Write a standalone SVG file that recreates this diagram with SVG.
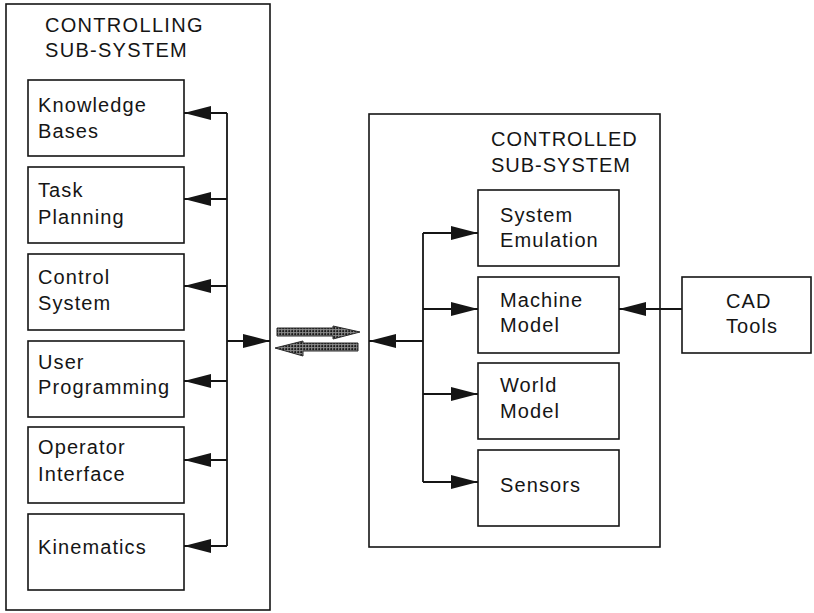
<svg xmlns="http://www.w3.org/2000/svg" width="814" height="613" viewBox="0 0 814 613">
<style>
.box{fill:none;stroke:#151515;stroke-width:1.6}
.frame{fill:none;stroke:#151515;stroke-width:1.6}
.ln{fill:none;stroke:#151515;stroke-width:1.8}
.t{font-family:"Liberation Sans",Arial,sans-serif;font-size:20px;fill:#151515;letter-spacing:1.1px}
.tt{font-family:"Liberation Sans",Arial,sans-serif;font-size:20px;fill:#151515;letter-spacing:1.3px}
.hatch{fill:url(#dots);stroke:#2a2a2a;stroke-width:1}
</style>
<defs>
<marker id="ah" markerUnits="userSpaceOnUse" markerWidth="27" markerHeight="14" refX="27" refY="7" orient="auto">
<path d="M0,0 L27,7 L0,14 Z" fill="#151515"/>
</marker>
<pattern id="dots" patternUnits="userSpaceOnUse" width="3" height="3">
<rect width="3" height="3" fill="#8a8a8a"/>
<circle cx="1.2" cy="1.2" r="1.1" fill="#1a1a1a"/>
</pattern>
</defs>
<rect width="814" height="613" fill="#ffffff"/>

<g id="controlling-subsystem">
<rect class="frame" x="6" y="4" width="264" height="606"/>
<text class="tt" x="45" y="32">CONTROLLING</text>
<text class="tt" x="45" y="57">SUB-SYSTEM</text>
</g>

<g id="knowledge-bases">
<rect class="box" x="28" y="80" width="156" height="76"/>
<text class="t" x="38" y="112">Knowledge</text>
<text class="t" x="38" y="138">Bases</text>
</g>
<g id="task-planning">
<rect class="box" x="28" y="167" width="156" height="76"/>
<text class="t" x="38" y="197">Task</text>
<text class="t" x="38" y="224">Planning</text>
</g>
<g id="control-system">
<rect class="box" x="28" y="254" width="156" height="76"/>
<text class="t" x="38" y="284">Control</text>
<text class="t" x="38" y="310">System</text>
</g>
<g id="user-programming">
<rect class="box" x="28" y="341" width="156" height="76"/>
<text class="t" x="38" y="369">User</text>
<text class="t" x="38" y="394">Programming</text>
</g>
<g id="operator-interface">
<rect class="box" x="28" y="427" width="156" height="76"/>
<text class="t" x="38" y="454">Operator</text>
<text class="t" x="38" y="481">Interface</text>
</g>
<g id="kinematics">
<rect class="box" x="28" y="514" width="156" height="76"/>
<text class="t" x="38" y="554">Kinematics</text>
</g>

<g id="controlled-subsystem">
<rect class="frame" x="369" y="114" width="291" height="433"/>
<text class="tt" x="491" y="146" style="letter-spacing:1px">CONTROLLED</text>
<text class="tt" x="491" y="172" style="letter-spacing:1px">SUB-SYSTEM</text>
</g>
<g id="system-emulation">
<rect class="box" x="478" y="190" width="141" height="76"/>
<text class="t" x="500" y="222">System</text>
<text class="t" x="500" y="247">Emulation</text>
</g>
<g id="machine-model">
<rect class="box" x="478" y="277" width="141" height="76"/>
<text class="t" x="500" y="307">Machine</text>
<text class="t" x="500" y="332">Model</text>
</g>
<g id="world-model">
<rect class="box" x="478" y="363" width="141" height="76"/>
<text class="t" x="500" y="392">World</text>
<text class="t" x="500" y="418">Model</text>
</g>
<g id="sensors">
<rect class="box" x="478" y="450" width="141" height="76"/>
<text class="t" x="500" y="492">Sensors</text>
</g>
<g id="cad-tools">
<rect class="box" x="682" y="277" width="129" height="76"/>
<text class="t" x="726" y="308">CAD</text>
<text class="t" x="726" y="333">Tools</text>
</g>

<g id="connectors">
<path class="ln" d="M227,113 L227,546"/>
<path class="ln" d="M227,113 L184,113" marker-end="url(#ah)"/>
<path class="ln" d="M227,199 L184,199" marker-end="url(#ah)"/>
<path class="ln" d="M227,286 L184,286" marker-end="url(#ah)"/>
<path class="ln" d="M227,381 L184,381" marker-end="url(#ah)"/>
<path class="ln" d="M227,460 L184,460" marker-end="url(#ah)"/>
<path class="ln" d="M227,546 L184,546" marker-end="url(#ah)"/>
<path class="ln" d="M227,341 L270,341" marker-end="url(#ah)"/>

<path class="ln" d="M423,233 L423,482"/>
<path class="ln" d="M423,233 L478,233" marker-end="url(#ah)"/>
<path class="ln" d="M423,309 L478,309" marker-end="url(#ah)"/>
<path class="ln" d="M423,394 L478,394" marker-end="url(#ah)"/>
<path class="ln" d="M423,482 L478,482" marker-end="url(#ah)"/>
<path class="ln" d="M423,341 L369,341" marker-end="url(#ah)"/>
<path class="ln" d="M682,309 L619,309" marker-end="url(#ah)"/>

<path class="hatch" d="M277,328 L333,328 L333,326 L360,332 L333,339 L333,336 L277,336 Z"/>
<path class="hatch" d="M358,343 L303,343 L303,341 L275,348 L303,356 L303,351 L358,351 Z"/>
</g>
</svg>
